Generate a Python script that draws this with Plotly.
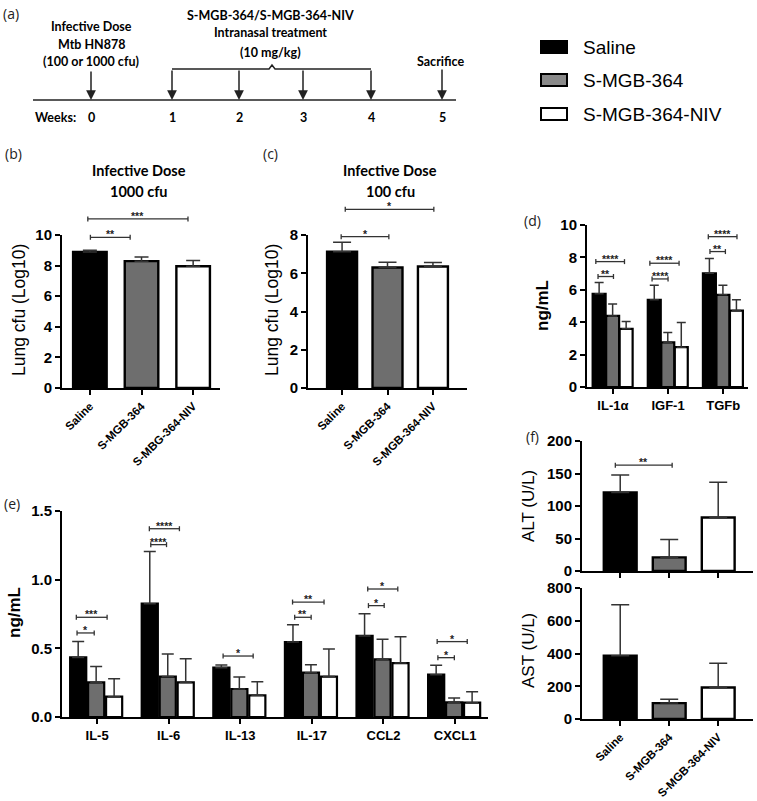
import plotly.graph_objects as go

W, H = 757, 801

# ---------------- data ----------------
groups = ["Saline", "S-MGB-364", "S-MGB-364-NIV"]

b_ticks = ["Saline", "S-MGB-364", "S-MBG-364-NIV"]
b_mean = [8.89, 8.29, 7.96]
b_err = [0.11, 0.27, 0.37]

c_ticks = ["Saline", "S-MGB-364", "S-MGB-364-NIV"]
c_mean = [7.13, 6.30, 6.35]
c_err = [0.49, 0.28, 0.21]

d_cats = ["IL-1α", "IGF-1", "TGFb"]
d_saline = [5.75, 5.38, 7.02]
d_saline_err = [0.70, 0.90, 0.91]
d_smgb = [4.39, 2.75, 5.69]
d_smgb_err = [0.74, 0.62, 0.59]
d_niv = [3.59, 2.46, 4.72]
d_niv_err = [0.46, 1.52, 0.66]

e_cats = ["IL-5", "IL-6", "IL-13", "IL-17", "CCL2", "CXCL1"]
e_saline = [0.434, 0.825, 0.359, 0.546, 0.590, 0.308]
e_saline_err = [0.115, 0.381, 0.020, 0.126, 0.162, 0.068]
e_smgb = [0.252, 0.294, 0.204, 0.323, 0.420, 0.107]
e_smgb_err = [0.115, 0.165, 0.087, 0.058, 0.146, 0.031]
e_niv = [0.148, 0.252, 0.158, 0.294, 0.393, 0.104]
e_niv_err = [0.131, 0.173, 0.099, 0.201, 0.192, 0.080]

f_ticks = ["Saline", "S-MGB-364", "S-MGB-364-NIV"]
alt_mean = [120.8, 21.0, 82.4]
alt_err = [26.7, 27.6, 54.3]
ast_mean = [387, 97, 192]
ast_err = [311, 24, 148]

weeks = ["0", "1", "2", "3", "4", "5"]

# significance brackets: (x_from, x_to, y, label) in axis units
b_sig = [(0.01, 0.78, 9.85, "**"), (-0.04, 1.90, 11.05, "***")]
c_sig = [(-0.02, 1.03, 7.91, "*"), (0.07, 2.02, 9.34, "*")]
d_sig = [(-0.27, 0.01, 6.82, "**"), (-0.31, 0.21, 7.74, "****"),
         (0.71, 1.00, 6.67, "****"), (0.67, 1.20, 7.64, "****"),
         (1.76, 2.04, 8.36, "**"), (1.73, 2.25, 9.28, "****")]
e_sig = [(-0.28, -0.04, 0.612, "*"), (-0.29, 0.14, 0.726, "***"),
         (0.75, 0.97, 1.255, "****"), (0.73, 1.15, 1.371, "****"),
         (1.76, 2.18, 0.444, "*"),
         (2.76, 2.99, 0.726, "**"), (2.73, 3.17, 0.837, "**"),
         (3.79, 4.01, 0.811, "*"), (3.78, 4.20, 0.932, "*"),
         (4.76, 4.99, 0.432, "*"), (4.75, 5.17, 0.549, "*")]
f_sig = [(-0.10, 1.06, 162.8, "**")]

# ---------------- styling / layout ----------------
BLACK, GRAY, WHITE = "#000000", "#6e6e6e", "#ffffff"
group_colors = [BLACK, GRAY, WHITE]
ERRC = "#333333"
TICKF = dict(family="Liberation Sans", size=15, color="black", weight="bold")
XTF = dict(family="Liberation Sans", size=13, color="black", weight="bold")
ROTF = dict(family="Liberation Sans", size=11.5, color="black", weight="bold")
LATO = "Lato"


def px(x):
    return x / W


def py(y):
    return 1 - y / H


# panel geometry in pixels: x (left,right), y (bottom,top), ranges
geo = {
    "b": dict(ax="", x=(62, 220), y=(388, 235), xr=(-0.54, 2.52), yr=(0, 10)),
    "c": dict(ax="2", x=(308, 467), y=(388, 235), xr=(-0.75, 2.75), yr=(0, 8)),
    "d": dict(ax="3", x=(587, 748), y=(387, 225), xr=(-0.47, 2.45), yr=(0, 10)),
    "e": dict(ax="4", x=(62, 488), y=(717, 511), xr=(-0.49, 5.46), yr=(0, 1.5)),
    "f1": dict(ax="5", x=(582, 753), y=(571, 441), xr=(-0.78, 2.71), yr=(0, 200)),
    "f2": dict(ax="6", x=(582, 753), y=(719, 588), xr=(-0.78, 2.71), yr=(0, 800)),
}


def to_px(p, xv, yv):
    g = geo[p]
    x0, x1 = g["x"]
    r0, r1 = g["xr"]
    yb, yt = g["y"]
    s0, s1 = g["yr"]
    return (x0 + (xv - r0) / (r1 - r0) * (x1 - x0),
            yb - (yv - s0) / (s1 - s0) * (yb - yt))


fig = go.Figure()
shapes = []
annos = []


def err(arr, w):
    return dict(type="data", array=arr, arrayminus=[0] * len(arr), symmetric=False,
                color=ERRC, thickness=1.5, width=w)


def single_panel(p, means, errs, width, capw):
    a = geo[p]["ax"]
    fig.add_trace(go.Bar(
        x=list(range(len(means))), y=means, width=width, offset=-width / 2,
        marker=dict(color=group_colors, line=dict(color="black", width=2.4)),
        error_y=err(errs, capw), xaxis="x" + a, yaxis="y" + a, showlegend=False))


def grouped_panel(p, series, errs, slot, width, capw):
    a = geo[p]["ax"]
    n = len(series)
    for i, (vals, ev) in enumerate(zip(series, errs)):
        fig.add_trace(go.Bar(
            x=list(range(len(vals))), y=vals, width=width,
            offset=-slot * n / 2 + i * slot,
            marker=dict(color=group_colors[i], line=dict(color="black", width=2.2)),
            error_y=err(ev, capw), xaxis="x" + a, yaxis="y" + a,
            name=groups[i], showlegend=False))


single_panel("b", b_mean, b_err, 0.65, 7)
single_panel("c", c_mean, c_err, 0.66, 9)
grouped_panel("d", [d_saline, d_smgb, d_niv], [d_saline_err, d_smgb_err, d_niv_err],
              0.245, 0.235, 4.5)
grouped_panel("e", [e_saline, e_smgb, e_niv], [e_saline_err, e_smgb_err, e_niv_err],
              0.251, 0.225, 6)
single_panel("f1", alt_mean, alt_err, 0.67, 9)
single_panel("f2", ast_mean, ast_err, 0.67, 9)


def axes(p, ticktext, tickfont, tickangle, yticks, yfmt=None, showx=True):
    g = geo[p]
    a = g["ax"]
    xname = "xaxis" + a
    yname = "yaxis" + a
    common = dict(showgrid=False, zeroline=False, showline=True, linecolor="black",
                  linewidth=2, ticks="outside", ticklen=5, tickwidth=2, tickcolor="black",
                  automargin=False, mirror=False, fixedrange=True)
    fig.layout[xname] = dict(
        domain=[px(g["x"][0]), px(g["x"][1])], range=list(g["xr"]),
        anchor="y" + a, tickmode="array", tickvals=list(range(len(ticktext))),
        ticktext=ticktext if showx else [""] * len(ticktext), tickfont=tickfont,
        tickangle=tickangle, **common)
    fig.layout[yname] = dict(
        domain=[py(g["y"][0]), py(g["y"][1])], range=list(g["yr"]),
        anchor="x" + a, tickmode="array", tickvals=yticks,
        ticktext=[(yfmt.format(v) if yfmt else str(v)) for v in yticks],
        tickfont=TICKF, **common)


axes("b", b_ticks, ROTF, -45, [0, 2, 4, 6, 8, 10])
axes("c", c_ticks, ROTF, -45, [0, 2, 4, 6, 8])
axes("d", d_cats, XTF, 0, [0, 2, 4, 6, 8, 10])
axes("e", e_cats, XTF, 0, [0, 0.5, 1.0, 1.5], yfmt="{:.1f}")
axes("f1", f_ticks, ROTF, -45, [0, 50, 100, 150, 200], showx=False)
axes("f2", f_ticks, ROTF, -45, [0, 200, 400, 600, 800])


def line_px(x0, y0, x1, y1, color="#333333", width=1.3):
    shapes.append(dict(type="line", xref="paper", yref="paper",
                       x0=px(x0), y0=py(y0), x1=px(x1), y1=py(y1),
                       line=dict(color=color, width=width)))


def text_px(x, y, t, size=12, family="Liberation Sans", weight="normal",
            color="black", xanchor="center", angle=0):
    annos.append(dict(x=px(x), y=py(y), xref="paper", yref="paper", text=t,
                      showarrow=False, xanchor=xanchor, yanchor="middle",
                      textangle=angle,
                      font=dict(family=family, size=size, color=color, weight=weight)))


def brackets(p, sig):
    for xa, xb, yv, lab in sig:
        x0, yy = to_px(p, xa, yv)
        x1, _ = to_px(p, xb, yv)
        line_px(x0, yy, x1, yy)
        line_px(x0, yy - 2.5, x0, yy + 2.5)
        line_px(x1, yy - 2.5, x1, yy + 2.5)
        text_px((x0 + x1) / 2, yy - 3, lab, size=10.5, weight="bold", color="#222")


brackets("b", b_sig)
brackets("c", c_sig)
brackets("d", d_sig)
brackets("e", e_sig)
brackets("f1", f_sig)

# axis titles
text_px(19, 310, "Lung cfu (Log10)", size=17.5, angle=-90)
text_px(272, 310, "Lung cfu (Log10)", size=17.5, angle=-90)
text_px(542, 306, "ng/mL", size=17, weight="bold", angle=-90)
text_px(14, 613, "ng/mL", size=17, weight="bold", angle=-90)
text_px(528, 506, "ALT (U/L)", size=17, angle=-90)
text_px(528, 651, "AST (U/L)", size=17, angle=-90)

# panel titles
text_px(139, 171, "Infective Dose", size=14.5, family=LATO, weight="bold")
text_px(139, 191, "1000 cfu", size=14.5, family=LATO, weight="bold")
text_px(390, 171, "Infective Dose", size=14.5, family=LATO, weight="bold")
text_px(390, 191, "100 cfu", size=14.5, family=LATO, weight="bold")

# panel letters
for lab, x, y in [("(a)", 11, 13), ("(b)", 13, 153), ("(c)", 270, 153),
                  ("(d)", 532, 220), ("(e)", 12, 503), ("(f)", 532, 436)]:
    text_px(x, y, lab, size=14, family="Open Sans", color="#222")

# ---------------- panel (a): timeline ----------------
week_px = [91, 172, 239, 303, 371, 442]
TL_Y = 100
line_px(33, TL_Y, 456, TL_Y, color="#222", width=1.6)
for wk, x in zip(weeks, week_px):
    text_px(x, 117, wk, size=12.5, family=LATO, weight="bold")
text_px(33, 117, "Weeks:", size=12.5, family=LATO, weight="bold", xanchor="left")


def arrow_px(x, ytop):
    annos.append(dict(x=px(x), y=py(TL_Y), xref="paper", yref="paper",
                      ax=0, ay=-(TL_Y - ytop), axref="pixel", ayref="pixel",
                      text="", showarrow=True, arrowhead=2, arrowsize=1.3,
                      arrowwidth=1.5, arrowcolor="#222", standoff=0))


arrow_px(week_px[0], 70)
arrow_px(week_px[5], 68)
for x in week_px[1:5]:
    arrow_px(x, 69)
# treatment brace
mid = (week_px[1] + week_px[4]) / 2 + 0.5
shapes.append(dict(type="path", xref="paper", yref="paper",
                   path=("M {:.4f},{:.4f} L {:.4f},{:.4f} L {:.4f},{:.4f} L {:.4f},{:.4f} L {:.4f},{:.4f}"
                         .format(px(week_px[1]), py(69), px(mid - 3), py(69), px(mid), py(65),
                                 px(mid + 3), py(69), px(week_px[4]), py(69))),
                   line=dict(color="#222", width=1.5)))

for t, y in [("Infective Dose", 27), ("Mtb HN878", 44), ("(100 or 1000 cfu)", 62)]:
    text_px(91, y, t, size=12.5, family=LATO, weight="bold")
for t, y in [("S-MGB-364/S-MGB-364-NIV", 15), ("Intranasal treatment", 33), ("(10 mg/kg)", 53)]:
    text_px(270, y, t, size=12.5, family=LATO, weight="bold")
text_px(441, 62, "Sacrifice", size=12.5, family=LATO, weight="bold")

# ---------------- legend ----------------
leg_fill = [BLACK, "#8a8a8a", WHITE]
for i, (name, yc) in enumerate(zip(groups, [47, 80, 114])):
    shapes.append(dict(type="rect", xref="paper", yref="paper",
                       x0=px(541), x1=px(567), y0=py(yc - 6), y1=py(yc + 6),
                       fillcolor=leg_fill[i], line=dict(color="black", width=2)))
    text_px(581, yc, name, size=19, xanchor="left")

fig.update_layout(template="none", width=W, height=H,
                  margin=dict(l=0, r=0, t=0, b=0, pad=0, autoexpand=False),
                  plot_bgcolor="white", paper_bgcolor="white",
                  barmode="overlay", showlegend=False, hovermode=False,
                  shapes=shapes, annotations=annos)

fig.write_html("out.html", config={"displayModeBar": False, "staticPlot": True},
               post_script="document.body.style.margin='0';document.body.style.overflow='hidden';")
